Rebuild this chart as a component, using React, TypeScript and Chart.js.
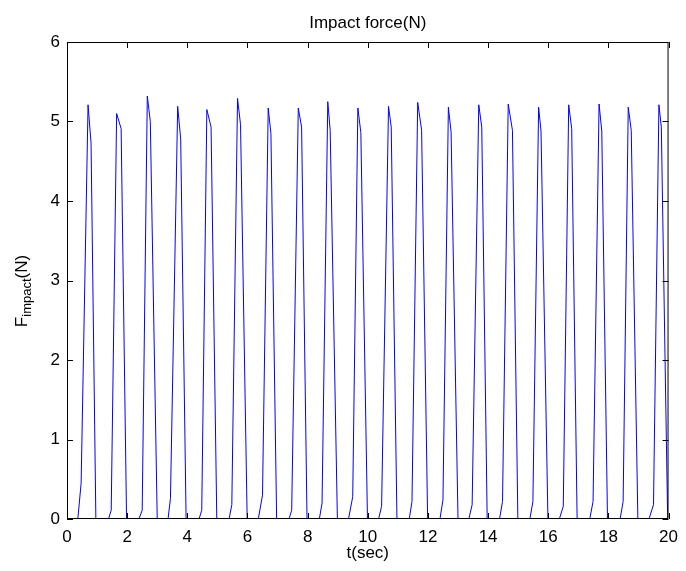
import React, { useEffect, useRef } from "react";
import { Chart, registerables } from "chart.js";

Chart.register(...registerables);

// Impact pulses: each pulse is read as 5 points (rise start, knee, peak, shoulder, drop)
const riseStartT = [0.36, 1.38, 2.39, 3.36, 4.39, 5.39, 6.36, 7.38, 8.39, 9.36, 10.36, 11.38, 12.4, 13.36, 14.38, 15.39, 16.37, 17.38, 18.39, 19.35];
const kneeT = [0.47, 1.47, 2.5, 3.44, 4.48, 5.48, 6.5, 7.47, 8.48, 9.5, 10.46, 11.47, 12.5, 13.47, 14.48, 15.49, 16.5, 17.49, 18.49, 19.5];
const kneeF = [0.45, 0.11, 0.11, 0.26, 0.11, 0.18, 0.3, 0.11, 0.2, 0.28, 0.16, 0.22, 0.24, 0.18, 0.22, 0.22, 0.16, 0.22, 0.22, 0.18];
const peakT = [0.7, 1.65, 2.67, 3.68, 4.65, 5.67, 6.69, 7.69, 8.67, 9.67, 10.69, 11.66, 12.68, 13.69, 14.67, 15.68, 16.68, 17.69, 18.66, 19.68];
const peakF = [5.21, 5.1, 5.32, 5.19, 5.15, 5.29, 5.17, 5.17, 5.25, 5.17, 5.19, 5.24, 5.18, 5.21, 5.22, 5.18, 5.21, 5.22, 5.18, 5.21];
const shoulderT = [0.8, 1.8, 2.77, 3.78, 4.79, 5.77, 6.78, 7.8, 8.75, 9.77, 10.78, 11.79, 12.77, 13.79, 14.81, 15.76, 16.78, 17.78, 18.76, 19.76];
const shoulderF = [4.73, 4.91, 5.0, 4.78, 4.93, 4.96, 4.85, 4.93, 4.89, 4.86, 4.93, 4.89, 4.87, 4.93, 4.89, 4.88, 4.91, 4.88, 4.89, 4.93];
const dropT = [0.96, 1.98, 3.0, 3.96, 4.98, 5.99, 6.97, 7.98, 8.99, 9.99, 10.97, 11.99, 13.0, 13.97, 14.99, 15.99, 16.96, 17.97, 18.98, 19.97];

const tStart = 0;
const tEnd = 20;
const xTicks = [0, 2, 4, 6, 8, 10, 12, 14, 16, 18, 20];
const yTicks = [0, 1, 2, 3, 4, 5, 6];

const titleText = "Impact force(N)";
const xLabel = "t(sec)";
const yLabelMain = "F";
const yLabelSub = "impact";
const yLabelTail = "(N)";

const FONT = "Arial, 'Liberation Sans', Helvetica, sans-serif";

function buildPoints() {
  const pts: { x: number; y: number }[] = [{ x: tStart, y: 0 }];
  for (let i = 0; i < riseStartT.length; i++) {
    pts.push({ x: riseStartT[i], y: 0 });
    pts.push({ x: kneeT[i], y: kneeF[i] });
    pts.push({ x: peakT[i], y: peakF[i] });
    pts.push({ x: shoulderT[i], y: shoulderF[i] });
    pts.push({ x: dropT[i], y: 0 });
  }
  pts.push({ x: tEnd, y: 0 });
  return pts;
}

const framePlugin = {
  id: "matlabFrame",
  afterDraw(chart: any) {
    const { ctx, chartArea } = chart;
    const { left, right, top, bottom } = chartArea;
    const xs = chart.scales.x;
    const ys = chart.scales.y;
    ctx.save();
    ctx.strokeStyle = "#000";
    ctx.lineWidth = 1;
    // box
    ctx.beginPath();
    ctx.rect(left + 0.5, top + 0.5, right - left - 1, bottom - top - 1);
    ctx.stroke();
    // inward ticks
    const tl = 6;
    ctx.beginPath();
    xTicks.forEach((v) => {
      const px = Math.round(xs.getPixelForValue(v)) + 0.5;
      ctx.moveTo(px, bottom);
      ctx.lineTo(px, bottom - tl);
      ctx.moveTo(px, top);
      ctx.lineTo(px, top + tl);
    });
    yTicks.forEach((v) => {
      const py = Math.round(ys.getPixelForValue(v)) + 0.5;
      ctx.moveTo(left, py);
      ctx.lineTo(left + tl, py);
      ctx.moveTo(right, py);
      ctx.lineTo(right - tl, py);
    });
    ctx.stroke();

    ctx.fillStyle = "#000";
    const cx = (left + right) / 2;
    // title
    ctx.font = `17px ${FONT}`;
    ctx.textAlign = "center";
    ctx.textBaseline = "alphabetic";
    ctx.fillText(titleText, cx, 28);
    // x label
    ctx.fillText(xLabel, cx, 558);
    // y label (rotated, with subscript)
    const mainFont = `17px ${FONT}`;
    const subFont = `13px ${FONT}`;
    ctx.font = mainFont;
    const wF = ctx.measureText(yLabelMain).width;
    const wT = ctx.measureText(yLabelTail).width;
    ctx.font = subFont;
    const wS = ctx.measureText(yLabelSub).width;
    const total = wF + wS + wT;
    const cy = 291;
    ctx.translate(27, cy);
    ctx.rotate(-Math.PI / 2);
    ctx.textAlign = "left";
    const x0 = -total / 2;
    ctx.font = mainFont;
    ctx.fillText(yLabelMain, x0, 0);
    ctx.font = subFont;
    ctx.fillText(yLabelSub, x0 + wF, 4);
    ctx.font = mainFont;
    ctx.fillText(yLabelTail, x0 + wF + wS, 0);
    ctx.restore();
  },
};

export default function App() {
  const ref = useRef<HTMLCanvasElement | null>(null);
  useEffect(() => {
    if (!ref.current) return;
    const chart = new Chart(ref.current, {
      type: "line",
      data: {
        datasets: [
          {
            data: buildPoints(),
            borderColor: "#0000ff",
            borderWidth: 1,
            pointRadius: 0,
            tension: 0,
            fill: false,
          },
        ],
      },
      options: {
        responsive: false,
        animation: false,
        events: [],
        layout: { padding: { top: 42, right: 11, left: 0, bottom: 0 } },
        plugins: { legend: { display: false }, tooltip: { enabled: false }, title: { display: false } },
        scales: {
          x: {
            type: "linear",
            min: tStart,
            max: tEnd,
            afterBuildTicks: (s: any) => {
              s.ticks = xTicks.map((v) => ({ value: v }));
            },
            afterFit: (s: any) => {
              s.height = 52;
            },
            ticks: { color: "#000", font: { family: FONT, size: 17 }, padding: 8, maxRotation: 0, autoSkip: false },
            grid: { display: false, drawTicks: false },
            border: { display: false },
          },
          y: {
            type: "linear",
            min: 0,
            max: 6,
            afterBuildTicks: (s: any) => {
              s.ticks = yTicks.map((v) => ({ value: v }));
            },
            afterFit: (s: any) => {
              s.width = 67;
            },
            ticks: { color: "#000", font: { family: FONT, size: 17 }, padding: 7 },
            grid: { display: false, drawTicks: false },
            border: { display: false },
          },
        },
      },
      plugins: [framePlugin],
    });
    return () => chart.destroy();
  }, []);
  return (
    <div style={{ position: "fixed", left: 0, top: 0, width: 686, height: 571, background: "#fff" }}>
      <canvas ref={ref} width={686} height={571} style={{ display: "block" }} />
    </div>
  );
}
